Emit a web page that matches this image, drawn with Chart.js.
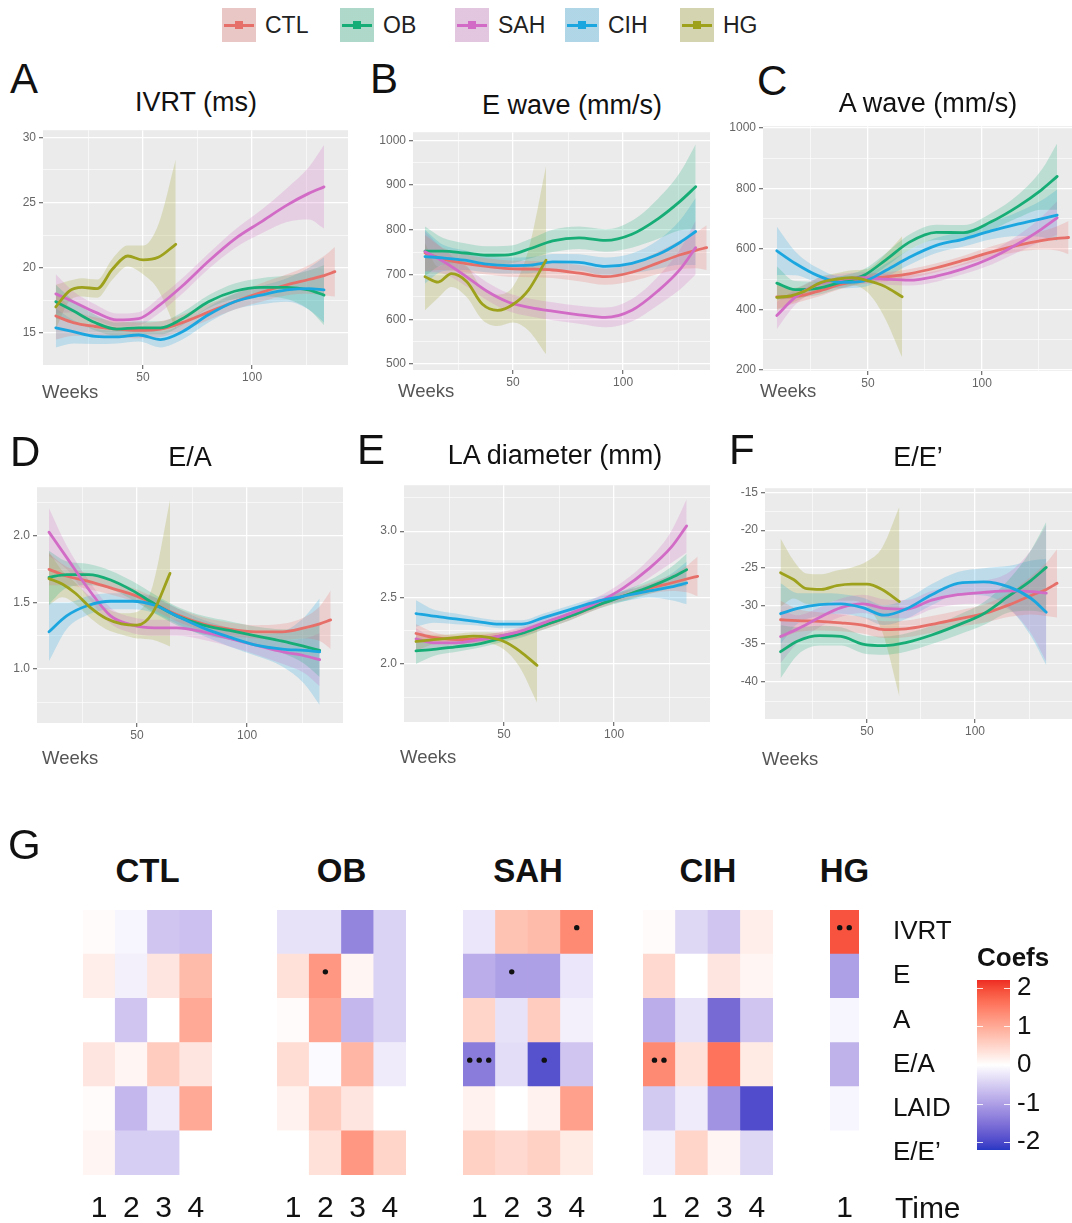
<!DOCTYPE html>
<html>
<head>
<meta charset="utf-8">
<script src="https://cdn.jsdelivr.net/npm/chart.js@4.4.1/dist/chart.umd.min.js"></script>
<style>
  html, body { margin:0; padding:0; background:#fff; }
  body { width:1072px; height:1223px; position:relative; overflow:hidden; font-family:"Liberation Sans", Arial, sans-serif; color:#111; }
  canvas { position:absolute; }
  .txt { position:absolute; line-height:1; white-space:nowrap; }
  .letter { font-size:42px; color:#111; }
  .ptitle { font-size:27px; color:#111; transform:translateX(-50%); }
  .weeks { font-size:18.5px; color:#555; }
  .ghead { font-size:33px; font-weight:bold; color:#111; transform:translateX(-50%); }
  .leg { position:absolute; top:8px; height:34px; display:flex; align-items:center; }
  .key { position:relative; width:34px; height:34px; display:inline-block; }
  .key .ln { position:absolute; left:2px; right:2px; top:15.5px; height:3px; }
  .key .pt { position:absolute; left:13px; top:13px; width:8px; height:8px; }
  .lt { font-size:23px; color:#222; margin-left:9px; line-height:1; }
</style>
</head>
<body>
<script>
// ================= DATA =================
const seriesNames  = ['CTL', 'OB', 'SAH', 'CIH', 'HG'];
const seriesColors = ['#E66F69', '#17AD77', '#D16BC6', '#1CA6E0', '#9DA11C'];

const weeks   = [10, 18, 28, 38, 48, 58, 68, 80, 92, 104, 116, 126, 133, 138];
const weeksHG = [10, 16, 22, 29, 36, 43, 50, 57, 65];
const xMajorTicks = [50, 100];
const xMinorTicks = [25, 75, 125];

// A — IVRT (ms)
const ivrtTicks = [15, 20, 25, 30];
const ivrtCTL   = [16.3, 15.8, 15.5, 15.3, 15.2, 15.3, 15.8, 16.6, 17.4, 18.1, 18.7, 19.1, 19.4, 19.7];
const ivrtCTLse = [1.8, 1.0, 0.7, 0.6, 0.6, 0.6, 0.6, 0.6, 0.6, 0.7, 0.8, 1.1, 1.5, 1.9];
const ivrtOB    = [17.4, 16.7, 15.8, 15.3, 15.4, 15.4, 16.1, 17.4, 18.2, 18.5, 18.5, 18.3, 17.9, null];
const ivrtOBse  = [1.3, 0.8, 0.6, 0.5, 0.5, 0.5, 0.5, 0.5, 0.6, 0.7, 0.9, 1.5, 2.3, null];
const ivrtSAH   = [18.0, 17.4, 16.6, 16.0, 16.1, 17.2, 18.6, 20.5, 22.2, 23.5, 24.8, 25.7, 26.2, null];
const ivrtSAHse = [1.5, 0.8, 0.6, 0.5, 0.5, 0.6, 0.6, 0.6, 0.7, 0.9, 1.3, 2.0, 3.2, null];
const ivrtCIH   = [15.4, 15.1, 14.75, 14.7, 14.85, 14.5, 15.1, 16.4, 17.4, 17.9, 18.3, 18.4, 18.3, null];
const ivrtCIHse = [1.5, 0.9, 0.6, 0.5, 0.5, 0.6, 0.6, 0.6, 0.6, 0.7, 0.9, 1.6, 2.5, null];
const ivrtHG    = [17.0, 18.2, 18.5, 18.4, 19.9, 20.9, 20.6, 20.8, 21.8];
const ivrtHGse  = [1.7, 0.8, 0.7, 0.7, 0.8, 0.8, 1.1, 2.5, 6.5];

// B — E wave (mm/s)
const eWaveTicks = [500, 600, 700, 800, 900, 1000];
const eCTL   = [748, 735, 725, 718, 713, 712, 710, 703, 695, 705, 726, 744, 754, 760];
const eCTLse = [40, 25, 20, 18, 18, 18, 18, 18, 18, 20, 25, 32, 40, 50];
const eOB    = [752, 752, 748, 743, 744, 758, 775, 782, 776, 790, 825, 864, 896, null];
const eOBse  = [55, 30, 22, 20, 20, 22, 25, 25, 25, 30, 45, 65, 95, null];
const eSAH   = [751, 730, 698, 663, 638, 626, 618, 610, 604, 620, 664, 712, 760, null];
const eSAHse = [45, 28, 22, 20, 20, 20, 20, 20, 22, 25, 32, 45, 60, null];
const eCIH   = [740, 737, 732, 723, 720, 721, 728, 727, 718, 725, 745, 772, 796, null];
const eCIHse = [60, 30, 22, 18, 18, 18, 18, 18, 20, 22, 32, 50, 75, null];
const eHG    = [695, 683, 702, 684, 634, 620, 633, 665, 732];
const eHGse  = [75, 35, 30, 35, 35, 35, 40, 90, 210];

// C — A wave (mm/s)
const aWaveTicks = [200, 400, 600, 800, 1000];
const aCTL   = [442, 443, 460, 483, 500, 508, 518, 538, 563, 590, 613, 628, 635, 638];
const aCTLse = [40, 22, 18, 15, 15, 15, 15, 15, 15, 18, 22, 30, 40, 55];
const aOB    = [487, 466, 470, 490, 512, 565, 622, 655, 654, 690, 742, 795, 840, null];
const aOBse  = [55, 28, 22, 20, 20, 22, 25, 25, 25, 28, 38, 65, 110, null];
const aSAH   = [380, 440, 483, 500, 505, 500, 497, 510, 535, 570, 618, 665, 703, null];
const aSAHse = [45, 25, 20, 18, 18, 18, 18, 18, 18, 22, 28, 40, 55, null];
const aCIH   = [594, 553, 512, 490, 494, 530, 572, 612, 633, 660, 683, 700, 712, null];
const aCIHse = [80, 40, 25, 20, 20, 22, 25, 25, 25, 28, 40, 60, 85, null];
const aHG    = [440, 445, 460, 488, 500, 505, 495, 478, 442];
const aHGse  = [45, 25, 20, 20, 20, 25, 40, 100, 200];

// D — E/A
const eaTicks = [1.0, 1.5, 2.0];
const eaCTL   = [1.75, 1.70, 1.66, 1.61, 1.56, 1.49, 1.41, 1.34, 1.30, 1.28, 1.28, 1.31, 1.34, 1.37];
const eaCTLse = [0.12, 0.07, 0.06, 0.05, 0.05, 0.05, 0.05, 0.05, 0.05, 0.05, 0.06, 0.08, 0.13, 0.22];
const eaOB    = [1.69, 1.71, 1.71, 1.67, 1.59, 1.49, 1.40, 1.33, 1.29, 1.25, 1.21, 1.17, 1.14, null];
const eaOBse  = [0.20, 0.10, 0.08, 0.07, 0.07, 0.07, 0.07, 0.07, 0.07, 0.07, 0.09, 0.13, 0.20, null];
const eaSAH   = [2.03, 1.84, 1.60, 1.40, 1.33, 1.31, 1.31, 1.28, 1.23, 1.18, 1.13, 1.10, 1.07, null];
const eaSAHse = [0.18, 0.09, 0.07, 0.06, 0.06, 0.06, 0.06, 0.06, 0.06, 0.07, 0.09, 0.13, 0.20, null];
const eaCIH   = [1.28, 1.40, 1.48, 1.51, 1.51, 1.48, 1.40, 1.31, 1.24, 1.18, 1.15, 1.14, 1.13, null];
const eaCIHse = [0.22, 0.10, 0.07, 0.06, 0.06, 0.06, 0.06, 0.06, 0.07, 0.08, 0.13, 0.25, 0.40, null];
const eaHG    = [1.68, 1.64, 1.57, 1.46, 1.38, 1.34, 1.33, 1.42, 1.72];
const eaHGse  = [0.20, 0.10, 0.08, 0.08, 0.08, 0.08, 0.10, 0.20, 0.55];

// E — LA diameter (mm)
const laTicks = [2.0, 2.5, 3.0];
const laCTL   = [2.23, 2.20, 2.185, 2.19, 2.21, 2.24, 2.29, 2.36, 2.44, 2.51, 2.57, 2.61, 2.64, 2.66];
const laCTLse = [0.07, 0.04, 0.03, 0.03, 0.03, 0.03, 0.03, 0.03, 0.03, 0.03, 0.04, 0.06, 0.10, 0.15];
const laOB    = [2.10, 2.11, 2.13, 2.15, 2.19, 2.23, 2.29, 2.36, 2.44, 2.51, 2.58, 2.65, 2.71, null];
const laOBse  = [0.10, 0.05, 0.04, 0.03, 0.03, 0.03, 0.03, 0.03, 0.03, 0.04, 0.05, 0.08, 0.12, null];
const laSAH   = [2.19, 2.16, 2.16, 2.18, 2.21, 2.25, 2.31, 2.38, 2.46, 2.57, 2.72, 2.88, 3.04, null];
const laSAHse = [0.08, 0.04, 0.03, 0.03, 0.03, 0.03, 0.03, 0.03, 0.04, 0.05, 0.07, 0.12, 0.20, null];
const laCIH   = [2.38, 2.36, 2.34, 2.32, 2.30, 2.30, 2.35, 2.41, 2.47, 2.51, 2.55, 2.58, 2.61, null];
const laCIHse = [0.10, 0.05, 0.04, 0.03, 0.03, 0.03, 0.03, 0.03, 0.03, 0.04, 0.05, 0.10, 0.16, null];
const laHG    = [2.17, 2.18, 2.19, 2.20, 2.21, 2.20, 2.17, 2.10, 1.99];
const laHGse  = [0.07, 0.04, 0.03, 0.03, 0.03, 0.04, 0.06, 0.12, 0.28];

// F — E/E'
const eePrimeTicks = [-40, -35, -30, -25, -20, -15];
const eeCTL   = [-31.8, -31.9, -32.0, -32.2, -32.5, -33.1, -33.0, -32.4, -31.7, -31.0, -29.8, -28.6, -27.8, -27.0];
const eeCTLse = [2.5, 1.5, 1.2, 1.1, 1.1, 1.1, 1.1, 1.1, 1.1, 1.2, 1.6, 2.5, 3.5, 4.5];
const eeOB    = [-36.0, -34.6, -33.9, -34.0, -35.0, -35.2, -34.8, -33.8, -32.5, -31.0, -28.6, -26.6, -24.9, null];
const eeOBse  = [3.5, 1.8, 1.3, 1.2, 1.2, 1.2, 1.2, 1.2, 1.3, 1.5, 2.2, 4.0, 6.0, null];
const eeSAH   = [-34.0, -33.0, -31.5, -30.2, -29.7, -30.3, -30.4, -29.2, -28.5, -28.2, -28.0, -28.1, -28.3, null];
const eeSAHse = [3.5, 1.8, 1.3, 1.2, 1.2, 1.2, 1.2, 1.2, 1.3, 1.5, 2.5, 5.5, 9.0, null];
const eeCIH   = [-31.0, -30.3, -29.8, -29.7, -30.2, -31.2, -30.4, -28.5, -27.0, -26.8, -27.5, -29.0, -30.8, null];
const eeCIHse = [4.0, 2.0, 1.5, 1.3, 1.3, 1.3, 1.3, 1.4, 1.5, 1.8, 2.8, 5.0, 7.0, null];
const eeHG    = [-25.6, -26.5, -27.7, -27.8, -27.3, -27.1, -27.1, -27.8, -29.4];
const eeHGse  = [4.5, 2.5, 2.0, 2.0, 2.0, 2.2, 3.0, 5.5, 12.5];

// G — heatmaps of coefficients (rows x time)
const heatRows  = ['IVRT', 'E', 'A', 'E/A', 'LAID', 'E/E’'];
const timeCols  = ['1', '2', '3', '4'];
const coefTicks = [-2, -1, 0, 1, 2];
const coefCTL = [[0.05, -0.1, -0.6, -0.65], [0.2, -0.15, 0.3, 0.8], [0.0, -0.6, 0.0, 1.0], [0.3, 0.1, 0.6, 0.3], [0.05, -0.75, -0.2, 1.0], [0.1, -0.5, -0.5, 0.0]];
const coefOB  = [[-0.3, -0.3, -1.3, -0.45], [0.35, 1.2, 0.1, -0.45], [0.05, 1.05, -0.75, -0.45], [0.4, -0.05, 0.85, -0.2], [0.15, 0.6, 0.3, 0.0], [0.0, 0.35, 1.2, 0.5]];
const coefSAH = [[-0.25, 0.7, 0.8, 1.35], [-0.85, -1.0, -1.0, -0.25], [0.5, -0.3, 0.6, -0.15], [-1.4, -0.35, -1.9, -0.6], [0.15, 0.0, 0.15, 1.1], [0.55, 0.45, 0.55, 0.25]];
const coefCIH = [[0.05, -0.4, -0.6, 0.2], [0.45, 0.0, 0.3, 0.1], [-0.85, -0.3, -1.6, -0.6], [1.35, 0.35, 1.6, 0.25], [-0.55, -0.2, -1.15, -1.95], [-0.15, 0.5, 0.1, -0.4]];
const coefHG  = [[1.9], [-1.0], [-0.1], [-0.8], [-0.1], [0.0]];
const sigCTL = [[0,0,0,0],[0,0,0,0],[0,0,0,0],[0,0,0,0],[0,0,0,0],[0,0,0,0]];
const sigOB  = [[0,0,0,0],[0,1,0,0],[0,0,0,0],[0,0,0,0],[0,0,0,0],[0,0,0,0]];
const sigSAH = [[0,0,0,1],[0,1,0,0],[0,0,0,0],[3,0,1,0],[0,0,0,0],[0,0,0,0]];
const sigCIH = [[0,0,0,0],[0,0,0,0],[0,0,0,0],[2,0,0,0],[0,0,0,0],[0,0,0,0]];
const sigHG  = [[2],[0],[0],[0],[0],[0]];

// ================= HELPERS =================
Chart.defaults.font.family = '"Liberation Sans", Arial, sans-serif';
const COEF_LIMIT = 2.2;
const COLOR_LOW = '#2638C4', COLOR_HIGH = '#EE2A22';

function hexToRgb(h) { const n = parseInt(h.slice(1), 16); return [(n >> 16) & 255, (n >> 8) & 255, n & 255]; }
function rgba(hex, a) { const [r, g, b] = hexToRgb(hex); return `rgba(${r},${g},${b},${a})`; }
function s2l(c) { c /= 255; return c <= 0.04045 ? c / 12.92 : Math.pow((c + 0.055) / 1.055, 2.4); }
function l2s(c) { c = c <= 0.0031308 ? 12.92 * c : 1.055 * Math.pow(c, 1 / 2.4) - 0.055; return Math.round(Math.max(0, Math.min(1, c)) * 255); }
function rgbToLab([r, g, b]) {
  r = s2l(r); g = s2l(g); b = s2l(b);
  const x = (0.4124 * r + 0.3576 * g + 0.1805 * b) / 0.95047;
  const y = (0.2126 * r + 0.7152 * g + 0.0722 * b);
  const z = (0.0193 * r + 0.1192 * g + 0.9505 * b) / 1.08883;
  const f = t => t > 0.008856 ? Math.cbrt(t) : 7.787 * t + 16 / 116;
  const fx = f(x), fy = f(y), fz = f(z);
  return [116 * fy - 16, 500 * (fx - fy), 200 * (fy - fz)];
}
function labToRgb([L, a, b]) {
  const fy = (L + 16) / 116, fx = fy + a / 500, fz = fy - b / 200;
  const fi = t => t * t * t > 0.008856 ? t * t * t : (t - 16 / 116) / 7.787;
  const x = fi(fx) * 0.95047, y = fi(fy), z = fi(fz) * 1.08883;
  return [l2s(3.2406 * x - 1.5372 * y - 0.4986 * z), l2s(-0.9689 * x + 1.8758 * y + 0.0415 * z), l2s(0.0557 * x - 0.2040 * y + 1.0570 * z)];
}
const LAB_LOW = rgbToLab(hexToRgb(COLOR_LOW)), LAB_MID = rgbToLab([255, 255, 255]), LAB_HIGH = rgbToLab(hexToRgb(COLOR_HIGH));
function coefColor(v) {
  const t = Math.max(-1, Math.min(1, v / COEF_LIMIT));
  const end = t < 0 ? LAB_LOW : LAB_HIGH, k = Math.abs(t);
  const [r, g, b] = labToRgb(LAB_MID.map((m, i) => m + (end[i] - m) * k));
  return `rgb(${r},${g},${b})`;
}

function addCanvas(left, top, w, h) {
  const c = document.createElement('canvas');
  c.width = w; c.height = h;
  c.style.left = left + 'px'; c.style.top = top + 'px';
  c.style.width = w + 'px'; c.style.height = h + 'px';
  document.body.appendChild(c);
  return c;
}
function addText(cls, text, left, top, extra) {
  const d = document.createElement('div');
  d.className = 'txt ' + cls;
  d.textContent = text;
  d.style.left = left + 'px'; d.style.top = top + 'px';
  if (extra) Object.assign(d.style, extra);
  document.body.appendChild(d);
  return d;
}

const panelBg = {
  id: 'panelBg',
  beforeDraw(chart) {
    const { ctx, chartArea: a } = chart;
    ctx.save(); ctx.fillStyle = '#EBEBEB';
    ctx.fillRect(a.left, a.top, a.right - a.left, a.bottom - a.top);
    ctx.restore();
  }
};

function makeSeries(ctl, ctlSe, ob, obSe, sah, sahSe, cih, cihSe, hg, hgSe) {
  return [
    { x: weeks, mean: ctl, se: ctlSe }, { x: weeks, mean: ob, se: obSe },
    { x: weeks, mean: sah, se: sahSe }, { x: weeks, mean: cih, se: cihSe },
    { x: weeksHG, mean: hg, se: hgSe }
  ].map((s, i) => Object.assign(s, { name: seriesNames[i], color: seriesColors[i] }));
}

function buildPanel(p) {
  const PL = 46, PT = 10, PR = 8, PB = 30;
  const [L, T, R, B] = p.rect;
  const canvas = addCanvas(L - PL, T - PT, R - L + PL + PR, B - T + PT + PB);
  const step = p.ticks[1] - p.ticks[0];
  const yMinor = [p.ticks[0] - step / 2, ...p.ticks.map(v => v + step / 2)];
  const yAll = [...p.ticks, ...yMinor].filter(v => v >= p.yr[0] && v <= p.yr[1]).sort((a, b) => a - b);
  const xAll = [...xMajorTicks, ...xMinorTicks].filter(v => v >= p.xr[0] && v <= p.xr[1]).sort((a, b) => a - b);
  const isMajY = v => p.ticks.some(t => Math.abs(t - v) < 1e-9);
  const isMajX = v => xMajorTicks.includes(v);

  const datasets = [];
  const pts = (xs, arr) => xs.map((x, i) => ({ x, y: arr[i] == null ? null : arr[i] }));
  p.series.forEach(s => {
    const lo = s.mean.map((m, i) => m == null ? null : m - s.se[i]);
    const hi = s.mean.map((m, i) => m == null ? null : m + s.se[i]);
    datasets.push({ data: pts(s.x, lo), borderWidth: 0, borderColor: 'rgba(0,0,0,0)', pointRadius: 0, fill: false, order: 5 });
    datasets.push({ data: pts(s.x, hi), borderWidth: 0, borderColor: 'rgba(0,0,0,0)', pointRadius: 0, fill: '-1', backgroundColor: rgba(s.color, 0.22), order: 5 });
  });
  p.series.forEach((s, k) => {
    datasets.push({ data: pts(s.x, s.mean), borderColor: s.color, borderWidth: 2.8, pointRadius: 0, fill: false, order: 1 + (4 - k) * 0.1 });
  });

  new Chart(canvas, {
    type: 'line',
    data: { datasets },
    options: {
      responsive: false, animation: false, devicePixelRatio: 1, events: [],
      layout: { padding: { top: PT, right: PR, left: 0, bottom: 0 } },
      plugins: { legend: { display: false }, tooltip: { enabled: false } },
      elements: { line: { cubicInterpolationMode: 'monotone', borderCapStyle: 'round', borderJoinStyle: 'round' } },
      scales: {
        x: {
          type: 'linear', min: p.xr[0], max: p.xr[1],
          afterBuildTicks: ax => { ax.ticks = xAll.map(v => ({ value: v })); },
          afterFit: ax => { ax.height = PB; },
          grid: { color: '#ffffff', lineWidth: c => isMajX(c.tick && c.tick.value) ? 1.3 : 0.6, drawTicks: true, tickLength: 4, tickColor: c => isMajX(c.tick && c.tick.value) ? '#777' : 'rgba(0,0,0,0)' },
          border: { display: false },
          ticks: { autoSkip: false, maxRotation: 0, padding: 1, color: '#666', font: { size: 12 }, callback: v => isMajX(v) ? String(v) : '' }
        },
        y: {
          type: 'linear', min: p.yr[0], max: p.yr[1],
          afterBuildTicks: ax => { ax.ticks = yAll.map(v => ({ value: v })); },
          afterFit: ax => { ax.width = PL; },
          grid: { color: '#ffffff', lineWidth: c => isMajY(c.tick ? c.tick.value : NaN) ? 1.3 : 0.6, drawTicks: true, tickLength: 4, tickColor: c => isMajY(c.tick ? c.tick.value : NaN) ? '#777' : 'rgba(0,0,0,0)' },
          border: { display: false },
          ticks: { autoSkip: false, padding: 3, color: '#666', font: { size: 12 }, callback: v => isMajY(v) ? v.toFixed(p.dec) : '' }
        }
      }
    },
    plugins: [panelBg]
  });
}

function sigPlugin(sig) {
  return {
    id: 'sigDots',
    afterDatasetsDraw(chart) {
      const { ctx, scales: { x, y } } = chart;
      ctx.save(); ctx.fillStyle = '#111';
      sig.forEach((row, r) => row.forEach((n, c) => {
        if (!n) return;
        const top = y.getPixelForValue(heatRows.length - r), bot = y.getPixelForValue(heatRows.length - r - 1);
        const cy = top + (bot - top) * 0.4, cx = x.getPixelForValue(c);
        for (let k = 0; k < n; k++) {
          ctx.beginPath(); ctx.arc(cx + (k - (n - 1) / 2) * 9.5, cy, 2.7, 0, Math.PI * 2); ctx.fill();
        }
      }));
      ctx.restore();
    }
  };
}

function buildHeat(g) {
  const [L, T, R, B] = g.rect;
  const PADX = 20, PADT = 16, XAXH = 45, RW = g.showRows ? 101 : 0;
  const canvas = addCanvas(L - PADX, T - PADT, R - L + PADX + (g.showRows ? RW : PADX), B - T + PADT + XAXH);
  const nCols = g.coef[0].length;
  const datasets = heatRows.map((row, r) => ({
    label: row,
    data: g.coef[r].map(() => 1),
    backgroundColor: g.coef[r].map(coefColor),
    borderWidth: 0, barPercentage: 1, categoryPercentage: 1
  })).reverse();
  addText('ghead', g.name, (L + R) / 2, 853.5);
  new Chart(canvas, {
    type: 'bar',
    data: { labels: timeCols.slice(0, nCols), datasets },
    options: {
      responsive: false, animation: false, devicePixelRatio: 1, events: [],
      layout: { padding: { top: PADT, left: PADX, right: g.showRows ? 0 : PADX, bottom: 0 } },
      plugins: { legend: { display: false }, tooltip: { enabled: false } },
      scales: {
        x: {
          stacked: true,
          afterFit: ax => { ax.height = XAXH; },
          grid: { display: false, drawTicks: true, tickLength: 14 },
          border: { display: false },
          ticks: { padding: 2, color: '#111', font: { size: 30 }, autoSkip: false, maxRotation: 0 }
        },
        y: g.showRows ? {
          stacked: true, min: 0, max: heatRows.length, position: 'right',
          afterBuildTicks: ax => { ax.ticks = heatRows.map((_, i) => ({ value: heatRows.length - i - 0.5 })); },
          afterFit: ax => { ax.width = RW; },
          grid: { display: false, drawTicks: true, tickLength: 34 },
          border: { display: false },
          ticks: { padding: 0, color: '#111', font: { size: 26 }, autoSkip: false, callback: v => heatRows[Math.round(heatRows.length - 0.5 - v)] }
        } : { stacked: true, min: 0, max: heatRows.length, display: false }
      }
    },
    plugins: [sigPlugin(g.sig)]
  });
}

function buildColorbar() {
  const L = 977, T = 980, W = 33, H = 170, PADT = 16, RW = 57;
  const canvas = addCanvas(L, T - PADT, W + RW, H + 2 * PADT);
  const cbTicks = {
    id: 'cbTicks',
    afterDatasetsDraw(chart) {
      const { ctx, chartArea: a, scales: { y } } = chart;
      ctx.save(); ctx.strokeStyle = 'rgba(255,255,255,0.85)'; ctx.lineWidth = 1;
      coefTicks.forEach(v => {
        const py = Math.round(y.getPixelForValue(v)) + 0.5;
        ctx.beginPath(); ctx.moveTo(a.left, py); ctx.lineTo(a.left + 6, py);
        ctx.moveTo(a.right - 6, py); ctx.lineTo(a.right, py); ctx.stroke();
      });
      ctx.restore();
    }
  };
  new Chart(canvas, {
    type: 'bar',
    data: {
      labels: [''],
      datasets: [{
        data: [[-COEF_LIMIT, COEF_LIMIT]], borderWidth: 0, barPercentage: 1, categoryPercentage: 1,
        backgroundColor: ctx => {
          const a = ctx.chart.chartArea; if (!a) return '#ffffff';
          const gr = ctx.chart.ctx.createLinearGradient(0, a.bottom, 0, a.top);
          for (let i = 0; i <= 40; i++) gr.addColorStop(i / 40, coefColor(-COEF_LIMIT + 2 * COEF_LIMIT * i / 40));
          return gr;
        }
      }]
    },
    options: {
      responsive: false, animation: false, devicePixelRatio: 1, events: [],
      layout: { padding: { top: PADT, bottom: PADT, left: 0, right: 0 } },
      plugins: { legend: { display: false }, tooltip: { enabled: false } },
      scales: {
        x: { display: false },
        y: {
          position: 'right', min: -COEF_LIMIT, max: COEF_LIMIT,
          afterBuildTicks: ax => { ax.ticks = coefTicks.map(v => ({ value: v })); },
          afterFit: ax => { ax.width = RW; },
          grid: { display: false, drawTicks: true, tickLength: 7 },
          border: { display: false },
          ticks: { padding: 0, color: '#111', font: { size: 26 }, callback: v => String(v) }
        }
      }
    },
    plugins: [cbTicks]
  });
  addText('', 'Coefs', 977, 944, { fontSize: '26px', fontWeight: 'bold', color: '#111' });
}

// ================= BUILD =================
// legend
const legendX = [222, 340, 455, 565, 680];
seriesNames.forEach((n, i) => {
  const d = document.createElement('div');
  d.className = 'leg'; d.style.left = legendX[i] + 'px';
  const c = seriesColors[i];
  d.innerHTML = `<span class="key" style="background:linear-gradient(${rgba(c, 0.28)},${rgba(c, 0.28)}),#e9e9e9"><i class="ln" style="background:${c}"></i><i class="pt" style="background:${c}"></i></span><span class="lt">${n}</span>`;
  document.body.appendChild(d);
});

const panels = [
  { letter: 'A', lx: 10, ly: 58,  title: 'IVRT (ms)',        tx: 196, ty: 89,  wx: 42,  wy: 383, rect: [43, 130, 348, 365],  xr: [4.13, 144.0], yr: [12.55, 30.54], ticks: ivrtTicks, dec: 0,
    series: makeSeries(ivrtCTL, ivrtCTLse, ivrtOB, ivrtOBse, ivrtSAH, ivrtSAHse, ivrtCIH, ivrtCIHse, ivrtHG, ivrtHGse) },
  { letter: 'B', lx: 370, ly: 58, title: 'E wave (mm/s)',    tx: 572, ty: 92,  wx: 398, wy: 382, rect: [413, 132, 710, 370], xr: [4.55, 139.5], yr: [486.6, 1017.9], ticks: eWaveTicks, dec: 0,
    series: makeSeries(eCTL, eCTLse, eOB, eOBse, eSAH, eSAHse, eCIH, eCIHse, eHG, eHGse) },
  { letter: 'C', lx: 757, ly: 60, title: 'A wave (mm/s)',    tx: 928, ty: 90,  wx: 760, wy: 382, rect: [763, 126, 1072, 371], xr: [3.95, 139.5], yr: [196.7, 1006], ticks: aWaveTicks, dec: 0,
    series: makeSeries(aCTL, aCTLse, aOB, aOBse, aSAH, aSAHse, aCIH, aCIHse, aHG, aHGse) },
  { letter: 'D', lx: 10, ly: 431, title: 'E/A',              tx: 190, ty: 444, wx: 42,  wy: 749, rect: [37, 487, 343, 723],  xr: [4.55, 143.6], yr: [0.594, 2.368], ticks: eaTicks, dec: 1,
    series: makeSeries(eaCTL, eaCTLse, eaOB, eaOBse, eaSAH, eaSAHse, eaCIH, eaCIHse, eaHG, eaHGse) },
  { letter: 'E', lx: 357, ly: 429, title: 'LA diameter (mm)', tx: 555, ty: 442, wx: 400, wy: 748, rect: [404, 485, 710, 722], xr: [4.55, 143.6], yr: [1.564, 3.346], ticks: laTicks, dec: 1,
    series: makeSeries(laCTL, laCTLse, laOB, laOBse, laSAH, laSAHse, laCIH, laCIHse, laHG, laHGse) },
  { letter: 'F', lx: 729, ly: 429, title: 'E/E’',            tx: 918, ty: 444, wx: 762, wy: 750, rect: [765, 488, 1072, 719], xr: [2.8, 144.9], yr: [-44.87, -14.47], ticks: eePrimeTicks, dec: 0,
    series: makeSeries(eeCTL, eeCTLse, eeOB, eeOBse, eeSAH, eeSAHse, eeCIH, eeCIHse, eeHG, eeHGse) }
];
panels.forEach(p => {
  buildPanel(p);
  addText('letter', p.letter, p.lx, p.ly);
  addText('ptitle', p.title, p.tx, p.ty);
  addText('weeks', 'Weeks', p.wx, p.wy);
});

addText('letter', 'G', 8, 824);
const heatGroups = [
  { name: 'CTL', coef: coefCTL, sig: sigCTL, rect: [83, 910, 212, 1175] },
  { name: 'OB',  coef: coefOB,  sig: sigOB,  rect: [277, 910, 406, 1175] },
  { name: 'SAH', coef: coefSAH, sig: sigSAH, rect: [463, 910, 593, 1175] },
  { name: 'CIH', coef: coefCIH, sig: sigCIH, rect: [643, 910, 773, 1175] },
  { name: 'HG',  coef: coefHG,  sig: sigHG,  rect: [830, 910, 859, 1175], showRows: true }
];
heatGroups.forEach(buildHeat);
addText('', 'Time', 895, 1193, { fontSize: '30px', color: '#111' });
buildColorbar();
</script>
</body>
</html>
